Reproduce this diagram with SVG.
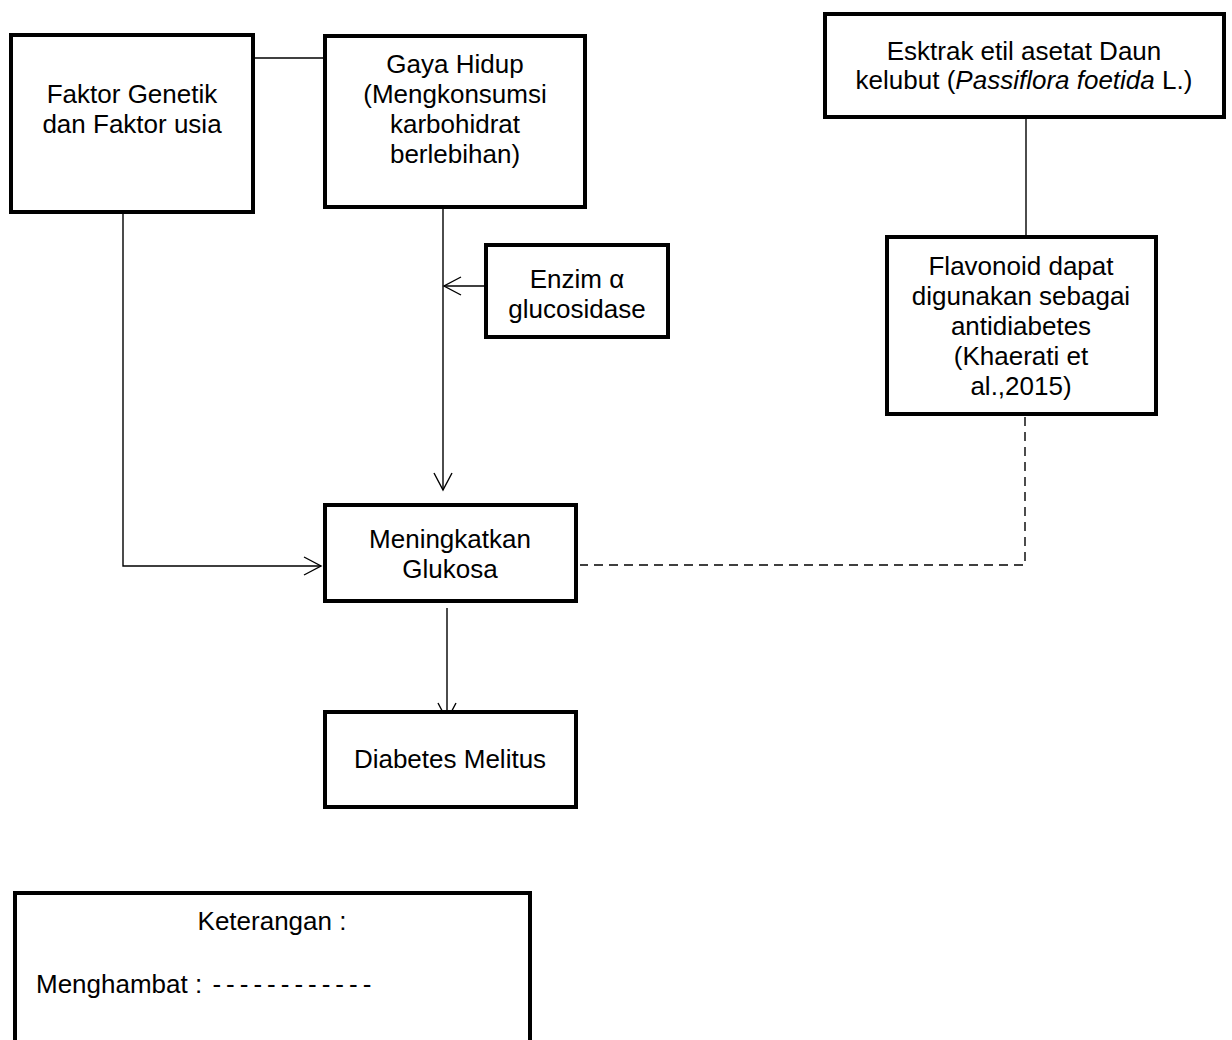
<svg xmlns="http://www.w3.org/2000/svg" width="1232" height="1040" viewBox="0 0 1232 1040">
<style>
  .box { fill: #ffffff; stroke: #000000; stroke-width: 4; }
  .t { font-family: "Liberation Sans", Arial, sans-serif; font-size: 26px; fill: #000000; text-anchor: middle; }
  .tl { font-family: "Liberation Sans", Arial, sans-serif; font-size: 26px; fill: #000000; }
  .ln { fill: none; stroke: #000000; stroke-width: 1.4; }
  .dash { fill: none; stroke: #000000; stroke-width: 1.4; stroke-dasharray: 9 6; }
</style>
<defs>
  <marker id="arr" viewBox="-20 -12 22 24" markerWidth="22" markerHeight="24" refX="0" refY="0" orient="auto" markerUnits="userSpaceOnUse">
    <path d="M-17,-9 L0,0 L-17,9" fill="none" stroke="#000000" stroke-width="1.4"/>
  </marker>
</defs>
<rect width="1232" height="1040" fill="#ffffff"/>

<g id="connectors">
  <line class="ln" x1="253" y1="58" x2="323" y2="58"/>
  <polyline class="ln" points="123,213 123,566 321,566" marker-end="url(#arr)"/>
  <line class="ln" x1="443" y1="208" x2="443" y2="490" marker-end="url(#arr)"/>
  <line class="ln" x1="484" y1="286" x2="444" y2="286" marker-end="url(#arr)"/>
  <line class="ln" x1="447" y1="608" x2="447" y2="720" marker-end="url(#arr)"/>
  <line class="ln" x1="1026" y1="118" x2="1026" y2="235"/>
  <polyline class="dash" points="1025,417 1025,565 580,565"/>
</g>

<g id="faktor-genetik">
  <rect class="box" x="11" y="35" width="242" height="177"/>
  <text class="t" x="132" y="103">Faktor Genetik</text>
  <text class="t" x="132" y="133">dan Faktor usia</text>
</g>

<g id="gaya-hidup">
  <rect class="box" x="325" y="36" width="260" height="171"/>
  <text class="t" x="455" y="73">Gaya Hidup</text>
  <text class="t" x="455" y="103">(Mengkonsumsi</text>
  <text class="t" x="455" y="133">karbohidrat</text>
  <text class="t" x="455" y="163">berlebihan)</text>
</g>

<g id="enzim">
  <rect class="box" x="486" y="245" width="182" height="92"/>
  <text class="t" x="577" y="288">Enzim α</text>
  <text class="t" x="577" y="318">glucosidase</text>
</g>

<g id="ekstrak">
  <rect class="box" x="825" y="14" width="399" height="103"/>
  <text class="t" x="1024" y="60">Esktrak etil asetat Daun</text>
  <text class="t" x="1024" y="89">kelubut (<tspan font-style="italic">Passiflora foetida</tspan> L.)</text>
</g>

<g id="flavonoid">
  <rect class="box" x="887" y="237" width="269" height="177"/>
  <text class="t" x="1021" y="275">Flavonoid dapat</text>
  <text class="t" x="1021" y="305">digunakan sebagai</text>
  <text class="t" x="1021" y="335">antidiabetes</text>
  <text class="t" x="1021" y="365">(Khaerati et</text>
  <text class="t" x="1021" y="395">al.,2015)</text>
</g>

<g id="meningkatkan">
  <rect class="box" x="325" y="505" width="251" height="96"/>
  <text class="t" x="450" y="548">Meningkatkan</text>
  <text class="t" x="450" y="578">Glukosa</text>
</g>

<g id="diabetes">
  <rect class="box" x="325" y="712" width="251" height="95"/>
  <text class="t" x="450" y="768">Diabetes Melitus</text>
</g>

<g id="keterangan">
  <rect class="box" x="15" y="893" width="515" height="170"/>
  <text class="t" x="272" y="930">Keterangan :</text>
  <text class="tl" x="36" y="993">Menghambat : <tspan letter-spacing="5" dx="3">------------</tspan></text>
</g>
</svg>
